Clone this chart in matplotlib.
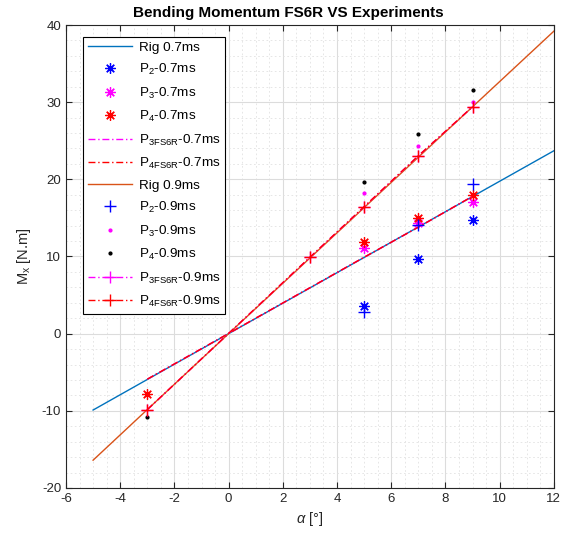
import matplotlib
matplotlib.use("Agg")
import matplotlib.pyplot as plt
from matplotlib.ticker import MultipleLocator

plt.rcParams['font.family'] = ['Liberation Sans', 'DejaVu Sans']
plt.rcParams['mathtext.fontset'] = 'custom'
plt.rcParams['mathtext.rm'] = 'Liberation Sans'
plt.rcParams['mathtext.it'] = 'Liberation Sans:italic'
plt.rcParams['mathtext.default'] = 'regular'
plt.rcParams['axes.unicode_minus'] = False

# Rig reference lines
rig_x = [-5, 0, 12]
rig_07 = [-9.9, 0, 23.7]
rig_09 = [-16.4, 0, 39.2]

# Experimental points, 0.7 ms
p2_07_x = [5, 7, 9]
p2_07 = [3.6, 9.7, 14.7]
p3_07_x = [5, 7, 9]
p3_07 = [11.05, 14.4, 17.1]
p4_07_x = [-3, 5, 7, 9]
p4_07 = [-7.8, 11.9, 15.0, 18.0]

# FS6R model, 0.7 ms
fs6r_07_x = [-3, 5, 7, 9]
p3fs6r_07 = [-5.9, 9.9, 13.8, 17.8]
p4fs6r_07 = [-5.9, 9.9, 13.8, 17.8]

# Experimental points, 0.9 ms
p2_09_x = [5, 7, 9]
p2_09 = [2.8, 14.1, 19.4]
p3_09_x = [5, 7, 9]
p3_09 = [18.2, 24.35, 30.0]
p4_09_x = [-3, 5, 7, 9]
p4_09 = [-10.8, 19.65, 25.9, 31.6]

# FS6R model, 0.9 ms
fs6r_09_x = [-3, 3, 5, 7, 9]
p3fs6r_09 = [-9.85, 9.9, 16.45, 23.05, 29.4]
p4fs6r_09 = [-9.85, 9.9, 16.45, 23.05, 29.4]

fig = plt.figure(figsize=(5.64, 5.38), dpi=100)
ax = fig.add_axes([0.117, 0.093, 0.865, 0.8605])

ast = (8, 2, 0)
lw = 1.0
dashdot = (0, (5, 2, 1, 2))
ax.plot(rig_x, rig_07, '-', color='#0072BD', lw=lw, label='Rig 0.7ms')
ax.plot(p2_07_x, p2_07, ls='none', marker=ast, color='blue', ms=7.5, mew=0.9, label='P$_2$-0.7ms')
ax.plot(p3_07_x, p3_07, ls='none', marker=ast, color='magenta', ms=7.5, mew=0.9, label='P$_3$-0.7ms')
ax.plot(p4_07_x, p4_07, ls='none', marker=ast, color='red', ms=7.5, mew=0.9, label='P$_4$-0.7ms')
ax.plot(fs6r_07_x, p3fs6r_07, ls=dashdot, color='magenta', lw=lw, label='P$_{3FS6R}$-0.7ms')
ax.plot(fs6r_07_x, p4fs6r_07, ls=dashdot, color='red', lw=lw, label='P$_{4FS6R}$-0.7ms')
ax.plot(rig_x, rig_09, '-', color='#D95319', lw=lw, label='Rig 0.9ms')
ax.plot(p2_09_x, p2_09, ls='none', marker='+', color='blue', ms=9, mew=1, label='P$_2$-0.9ms')
ax.plot(p3_09_x, p3_09, ls='none', marker='.', color='magenta', ms=4, label='P$_3$-0.9ms')
ax.plot(p4_09_x, p4_09, ls='none', marker='.', color='black', ms=4, label='P$_4$-0.9ms')
ax.plot(fs6r_09_x, p3fs6r_09, ls=dashdot, marker='+', color='magenta', lw=lw, ms=9, mew=1, label='P$_{3FS6R}$-0.9ms')
ax.plot(fs6r_09_x, p4fs6r_09, ls=dashdot, marker='+', color='red', lw=lw, ms=9, mew=1, label='P$_{4FS6R}$-0.9ms')

ax.set_xlim(-6, 12)
ax.set_ylim(-20, 40)
ax.xaxis.set_major_locator(MultipleLocator(2))
ax.yaxis.set_major_locator(MultipleLocator(10))
ax.xaxis.set_minor_locator(MultipleLocator(0.5))
ax.yaxis.set_minor_locator(MultipleLocator(2))
ax.grid(True, which='major', color='#dcdcdc', lw=0.8)
ax.grid(True, which='minor', color='#e2e2e2', lw=0.6, ls=(0, (2, 3)))
ax.set_axisbelow(True)
ax.tick_params(which='both', direction='in', top=True, right=True, labelsize=9.5, colors='#262626')
ax.tick_params(which='major', length=4)
ax.tick_params(which='minor', length=0)
for s in ax.spines.values():
    s.set_color('#262626')
    s.set_linewidth(0.8)

ax.set_title('Bending Momentum FS6R VS Experiments', fontsize=11, fontweight='bold', pad=6, x=0.455)
ax.set_xlabel(r'$\it{\alpha}$ [°]', fontsize=10.5, color='#262626')
ax.set_ylabel('M$_x$ [N.m]', fontsize=10.5, color='#262626', labelpad=6)

leg = ax.legend(loc='upper left', bbox_to_anchor=(0.035, 0.975), borderaxespad=0, fontsize=9.7,
                frameon=True, fancybox=False, edgecolor='black', framealpha=1,
                handlelength=3.3, labelspacing=0.62, borderpad=0.35, handletextpad=0.5)
leg.get_frame().set_linewidth(0.8)

fig.savefig('out.png', dpi=100)
